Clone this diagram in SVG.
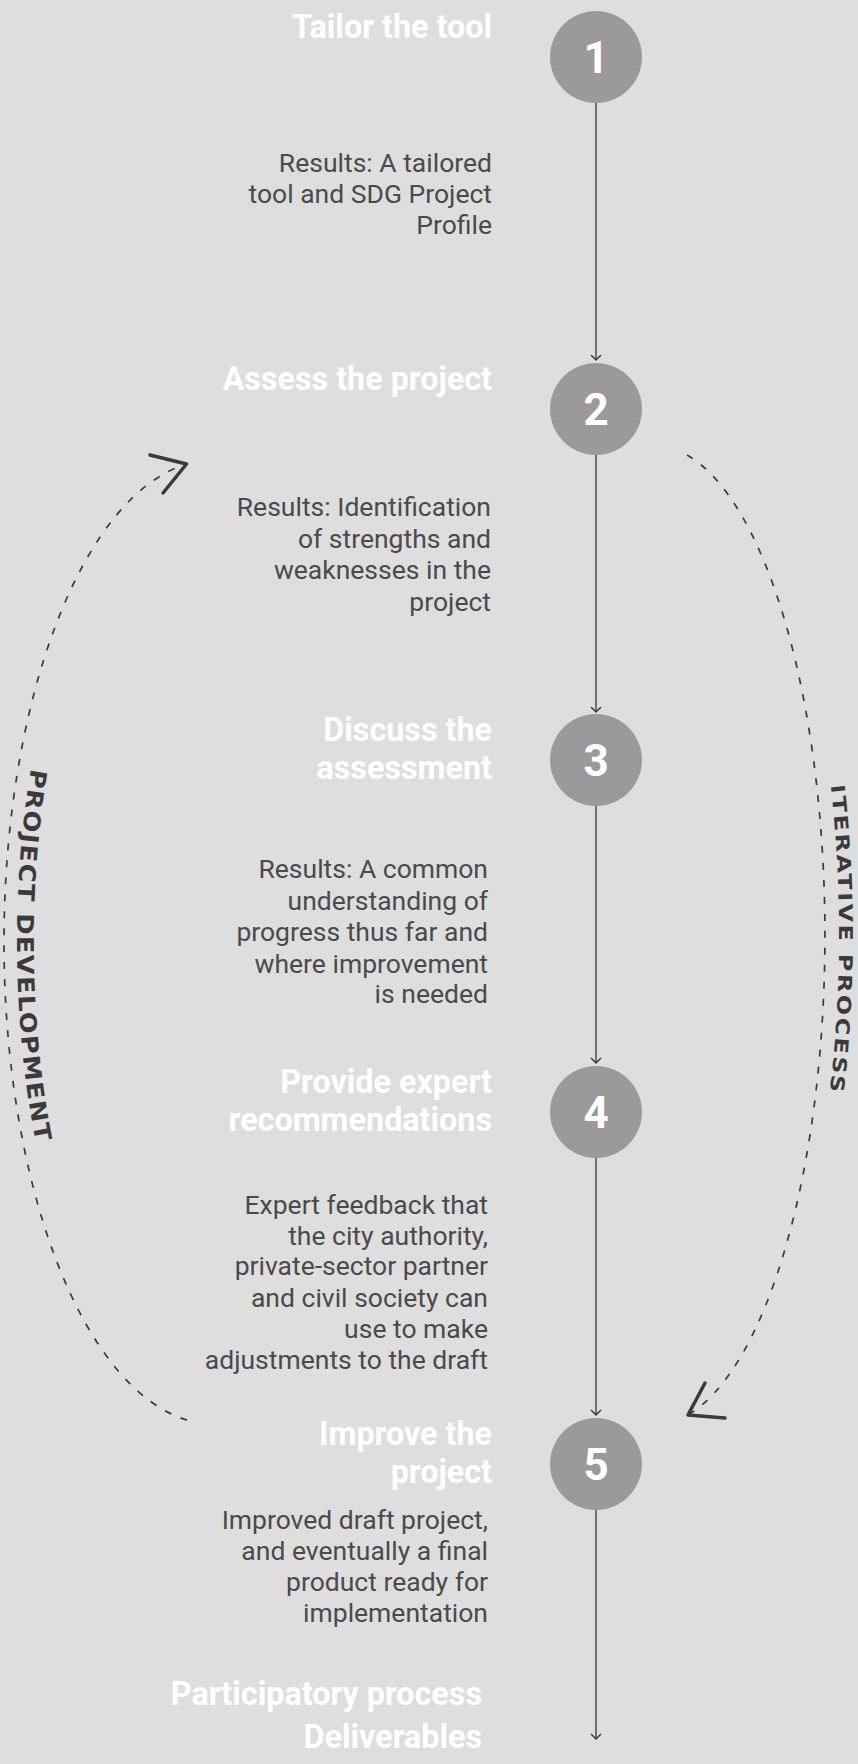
<svg xmlns="http://www.w3.org/2000/svg" width="858" height="1764" viewBox="0 0 858 1764">
<style>
.bg{fill:#dedede}
.circ{fill:#9b999a}
.num{font-family:Roboto,'Liberation Sans',sans-serif;font-weight:700;font-size:44px;fill:#fff;text-anchor:middle}
.title{font-family:Roboto,'Liberation Sans',sans-serif;font-weight:700;font-size:32.3px;fill:#fff;text-anchor:end}
.res{font-family:Roboto,'Liberation Sans',sans-serif;font-size:26.5px;fill:#4a4a4a;text-anchor:end}
.flow{stroke:#484848;stroke-width:1.5;fill:none}
.dash{stroke:#3a3a3a;stroke-width:1.7;fill:none;stroke-dasharray:7 10}
.head{stroke:#3a3a3a;stroke-width:3.5;fill:none;stroke-linecap:round;stroke-linejoin:round}
.side{font-family:'DejaVu Sans',sans-serif;font-weight:700;fill:#3a3a3a}
</style>
<defs>
<marker id="arr" markerUnits="userSpaceOnUse" markerWidth="14" markerHeight="14" refX="0" refY="0" viewBox="-7 -7 14 14" orient="auto" overflow="visible">
<path d="M-5,-5 L0,0 L-5,5" fill="none" stroke="#3a3a3a" stroke-width="1.5"/>
</marker>
<path id="leftTextPath" d="M215,472 A198,470 0 0 0 215,1412"/>
<path id="rightTextPath" d="M654,431 A185,504 0 0 1 654,1439"/>
</defs>
<rect class="bg" x="0" y="0" width="858" height="1764"/>

<g id="connectors">
<line class="flow" x1="596" y1="103" x2="596" y2="360" marker-end="url(#arr)"/>
<line class="flow" x1="596" y1="455" x2="596" y2="712" marker-end="url(#arr)"/>
<line class="flow" x1="596" y1="806" x2="596" y2="1063" marker-end="url(#arr)"/>
<line class="flow" x1="596" y1="1158" x2="596" y2="1415" marker-end="url(#arr)"/>
<line class="flow" x1="596" y1="1510" x2="596" y2="1739" marker-end="url(#arr)"/>
<path class="dash" d="M187,1420 A210,482 0 0 1 187,464"/>
<polyline class="head" points="150,455 186.5,464 163,493"/>
<path class="dash" d="M687,455 A172,490 0 0 1 688,1415"/>
<polyline class="head" points="705,1383 688,1415 725,1418"/>
</g>

<g id="label-project-development">
<text class="side" font-size="23" letter-spacing="1.5"><textPath href="#leftTextPath" startOffset="51.3%" text-anchor="middle" textLength="377" lengthAdjust="spacingAndGlyphs">PROJECT DEVELOPMENT</textPath></text>
</g>
<g id="label-iterative-process">
<text class="side" font-size="19" font-weight="400" letter-spacing="2"><textPath href="#rightTextPath" startOffset="50.4%" text-anchor="middle" textLength="309" lengthAdjust="spacingAndGlyphs">ITERATIVE PROCESS</textPath></text>
</g>

<g id="node-1">
<circle class="circ" cx="596" cy="57" r="46"/>
<text class="num" x="596" y="73">1</text>
<text class="title" x="492" y="38">Tailor the tool</text>
<text class="res" x="492"><tspan x="492" y="171.7">Results: A tailored</tspan><tspan x="492" y="202.7">tool and SDG Project</tspan><tspan x="492" y="233.5">Profile</tspan></text>
</g>

<g id="node-2">
<circle class="circ" cx="596" cy="409" r="46"/>
<text class="num" x="596" y="425">2</text>
<text class="title" x="492" y="390">Assess the project</text>
<text class="res"><tspan x="491" y="516">Results: Identification</tspan><tspan x="491" y="547.5">of strengths and</tspan><tspan x="491" y="579">weaknesses in the</tspan><tspan x="491" y="610.5">project</tspan></text>
</g>

<g id="node-3">
<circle class="circ" cx="596" cy="760" r="46"/>
<text class="num" x="596" y="776">3</text>
<text class="title"><tspan x="492" y="741">Discuss the</tspan><tspan x="492" y="779">assessment</tspan></text>
<text class="res"><tspan x="488" y="878">Results: A common</tspan><tspan x="488" y="909.5">understanding of</tspan><tspan x="488" y="941">progress thus far and</tspan><tspan x="488" y="972.5">where improvement</tspan><tspan x="488" y="1003">is needed</tspan></text>
</g>

<g id="node-4">
<circle class="circ" cx="596" cy="1112" r="46"/>
<text class="num" x="596" y="1128">4</text>
<text class="title"><tspan x="492" y="1093">Provide expert</tspan><tspan x="492" y="1131">recommendations</tspan></text>
<text class="res"><tspan x="488" y="1214">Expert feedback that</tspan><tspan x="488" y="1244.5">the city authority,</tspan><tspan x="488" y="1275">private-sector partner</tspan><tspan x="488" y="1306.5">and civil society can</tspan><tspan x="488" y="1338">use to make</tspan><tspan x="488" y="1368.5">adjustments to the draft</tspan></text>
</g>

<g id="node-5">
<circle class="circ" cx="596" cy="1464" r="46"/>
<text class="num" x="596" y="1480">5</text>
<text class="title"><tspan x="492" y="1445">Improve the</tspan><tspan x="492" y="1483">project</tspan></text>
<text class="res"><tspan x="488" y="1529">Improved draft project,</tspan><tspan x="488" y="1560">and eventually a final</tspan><tspan x="488" y="1591">product ready for</tspan><tspan x="488" y="1622">implementation</tspan></text>
</g>

<g id="legend">
<text class="title" x="482" y="1705">Participatory process</text>
<text class="title" x="482" y="1748">Deliverables</text>
</g>
</svg>
